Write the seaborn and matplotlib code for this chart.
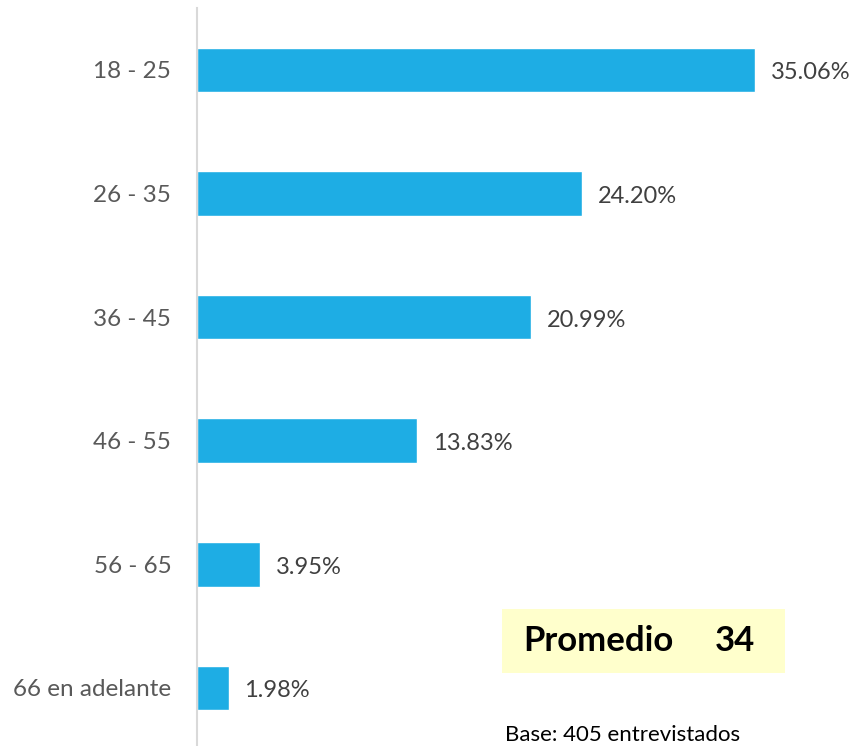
import matplotlib
matplotlib.use("Agg")
import matplotlib.pyplot as plt
import seaborn as sns
import pandas as pd

categories = ["18 - 25", "26 - 35", "36 - 45", "46 - 55", "56 - 65", "66 en adelante"]
values = [35.06, 24.20, 20.99, 13.83, 3.95, 1.98]
promedio = 34
base_text = "Base: 405 entrevistados"

sns.set_theme(style="white")
plt.rcParams["font.family"] = ["Lato", "DejaVu Sans"]

df = pd.DataFrame({"rango": categories, "pct": values})

fig = plt.figure(figsize=(8.55, 7.46), dpi=100)
ax = fig.add_axes([197 / 855, 0, 653 / 855, 1 - 8 / 746])

sns.barplot(data=df, y="rango", x="pct", orient="h", color="#1EADE4",
            saturation=1, width=0.36, ax=ax)

# etiquetas de valor
for i, v in enumerate(values):
    ax.text(v + 1.0, i + 0.025, f"{v:.2f}%", va="center", ha="left",
            fontsize=17, color="#404040")

ax.set_xlim(0, 41.0)
ax.set_ylim(5.47, -0.50)
ax.set_xlabel("")
ax.set_ylabel("")
ax.set_xticks([])
ax.tick_params(axis="y", length=0, pad=18.5, labelsize=17.5, labelcolor="#595959")

for s in ["top", "right", "bottom"]:
    ax.spines[s].set_visible(False)
ax.spines["left"].set_color("#D9D9D9")
ax.spines["left"].set_linewidth(1.5)

# cuadro del promedio
fig.patches.append(plt.Rectangle((502 / 855, 1 - 673 / 746), 283 / 855, 64 / 746,
                                 transform=fig.transFigure, facecolor="#FFFFCC",
                                 edgecolor="none", zorder=0))
fig.text(523 / 855, 1 - 641 / 746, "Promedio", fontsize=25, fontweight="bold",
         va="center", ha="left", color="black")
fig.text(755 / 855, 1 - 641 / 746, str(promedio), fontsize=25, fontweight="bold",
         va="center", ha="right", color="black")
fig.text(505 / 855, 1 - 735 / 746, base_text, fontsize=16, va="center",
         ha="left", color="black")

fig.savefig("out.png", dpi=100)
